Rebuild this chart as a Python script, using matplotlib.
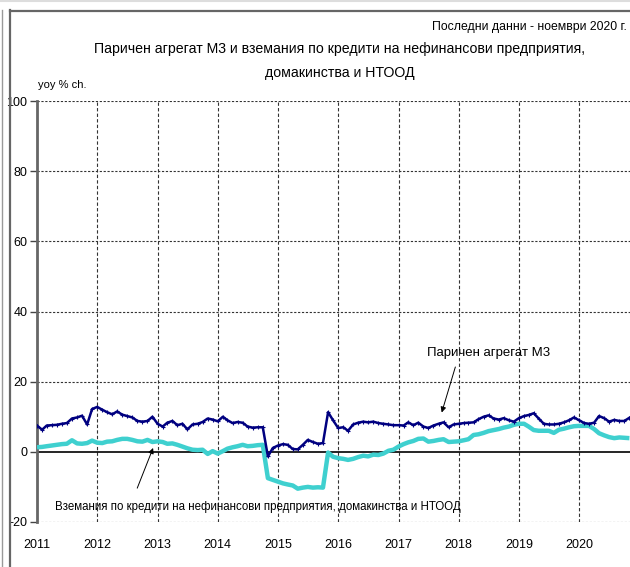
import matplotlib
matplotlib.use("Agg")
import matplotlib.pyplot as plt
from matplotlib.lines import Line2D
import pandas as pd

plt.rcParams['font.family'] = ['Liberation Sans', 'DejaVu Sans']

# monthly yoy % change, Jan 2011 - Nov 2020
m3 = [7.5, 6.3, 7.5, 7.6, 7.7, 8.0, 8.2, 9.5, 9.8, 10.3, 7.8, 12.2,
      12.8, 12.0, 11.3, 10.7, 11.5, 10.6, 10.2, 9.8, 8.8, 8.6, 8.8, 10.0,
      8.0, 7.2, 8.3, 8.8, 7.6, 8.0, 6.4, 7.8, 8.0, 8.5, 9.5, 9.2,
      8.7, 10.0, 9.0, 8.2, 8.5, 8.3, 7.2, 6.9, 7.0, 7.0, -1.3, 1.1,
      1.8, 2.2, 2.0, 0.8, 0.7, 2.0, 3.4, 2.8, 2.3, 2.5, 11.3, 9.0,
      6.8, 7.0, 6.0, 7.8, 8.3, 8.6, 8.4, 8.6, 8.2, 8.0, 7.8, 7.6,
      7.6, 7.5, 8.4, 7.6, 8.3, 7.2, 6.8, 7.5, 8.0, 8.4, 7.0, 7.8,
      8.0, 8.2, 8.3, 8.4, 9.3, 10.0, 10.4, 9.5, 9.2, 9.6, 9.0, 8.6,
      9.6, 10.2, 10.5, 11.0, 9.5, 8.0, 7.8, 7.8, 8.0, 8.4, 9.0, 9.8,
      9.0, 8.2, 8.0, 8.3, 10.2, 9.6, 8.6, 9.1, 8.8, 8.8, 9.7]

credit = [1.3, 1.4, 1.6, 1.8, 2.0, 2.2, 2.3, 3.3, 2.4, 2.3, 2.5, 3.2,
          2.6, 2.5, 2.9, 3.0, 3.4, 3.7, 3.7, 3.4, 3.0, 2.9, 3.4, 2.8,
          3.0, 2.8, 2.3, 2.4, 2.0, 1.5, 1.0, 0.6, 0.5, 0.6, -0.6, 0.2,
          -0.5, 0.2, 0.9, 1.3, 1.6, 2.0, 1.6, 1.7, 1.9, 2.0, -7.5, -8.0,
          -8.5, -9.0, -9.3, -9.6, -10.5, -10.2, -10.0, -10.2, -10.1, -10.2, -0.2, -1.4,
          -1.8, -2.0, -2.3, -2.0, -1.5, -1.1, -1.3, -0.8, -0.9, -0.5, 0.3, 0.6,
          1.5, 2.2, 2.7, 3.1, 3.7, 3.8, 2.9, 3.1, 3.4, 3.6, 2.8, 2.9,
          3.0, 3.3, 3.6, 4.8, 5.0, 5.4, 5.9, 6.2, 6.5, 6.9, 7.2, 7.7,
          8.0, 8.0, 7.2, 6.2, 6.0, 6.0, 6.0, 5.4, 6.3, 6.6, 7.0, 7.3,
          7.4, 7.4, 7.4, 6.5, 5.3, 4.7, 4.2, 3.9, 4.1, 4.0, 3.9]

years = list(range(2011, 2021))
yticks = [-20, 0, 20, 40, 60, 80, 100]

dates = pd.date_range('2011-01-01', periods=len(m3), freq='MS')

fig = plt.figure(figsize=(6.3, 5.67), dpi=100)
ax = fig.add_axes([37 / 630, 1 - 522 / 567, 598 / 630, 421 / 567])

ax.plot(dates, credit, color='#3fd0cf', lw=3.2, solid_capstyle='butt', zorder=3)
ax.plot(dates, m3, color='#000080', lw=1.8, marker='+', ms=3, mew=0.8, zorder=4)

ax.set_xlim(pd.Timestamp('2011-01-01'), pd.Timestamp('2020-12-05'))
ax.set_ylim(-20, 100)
ax.set_yticks(yticks)
ax.set_yticklabels([str(v) for v in yticks], fontsize=9)
year_dates = [pd.Timestamp(f'{y}-01-01') for y in years]
ax.set_xticks(year_dates)
ax.set_xticklabels([str(y) for y in years], fontsize=9)
ax.tick_params(axis='x', length=0, pad=12)
ax.tick_params(axis='y', length=5, width=1, color='#444444', pad=2)

for y in yticks:
    if y == 0:
        ax.axhline(0, color='black', lw=1.2, zorder=2)
    else:
        ax.axhline(y, color='#333333', lw=0.8, ls=(0, (2, 1.5)), zorder=1)
for d in year_dates[1:]:
    ax.axvline(d, color='#333333', lw=0.8, ls=(0, (3, 2)), zorder=1)

for s in ['top', 'right', 'bottom']:
    ax.spines[s].set_visible(False)
ax.spines['left'].set_color('#666666')
ax.spines['left'].set_linewidth(2)

ax.annotate('Паричен агрегат М3', xy=(pd.Timestamp('2017-09-20'), 11.2),
            xytext=(pd.Timestamp('2018-07-01'), 28.2), ha='center', va='center',
            fontsize=9.5,
            arrowprops=dict(arrowstyle='-|>', color='black', lw=0.7,
                            mutation_scale=8, shrinkA=4, shrinkB=0,
                            relpos=(0.25, 0.0)))
ax.annotate('Вземания по кредити на нефинансови предприятия, домакинства и НТООД',
            xy=(pd.Timestamp('2012-12-05'), 1.1),
            xytext=(pd.Timestamp('2014-09-01'), -15.8), ha='center', va='center',
            fontsize=8.3,
            arrowprops=dict(arrowstyle='-|>', color='black', lw=0.7,
                            mutation_scale=8, shrinkA=8, shrinkB=0,
                            relpos=(0.19, 1.0)))

fig.text(340 / 630, 1 - 49 / 567, 'Паричен агрегат М3 и вземания по кредити на нефинансови предприятия,',
         ha='center', va='center', fontsize=10.2)
fig.text(340 / 630, 1 - 73 / 567, 'домакинства и НТООД', ha='center', va='center', fontsize=10.2)
fig.text(627 / 630, 1 - 27 / 567, 'Последни данни - ноември 2020 г.', ha='right', va='center', fontsize=8.8)
fig.text(38 / 630, 1 - 85 / 567, 'yoy % ch.', ha='left', va='center', fontsize=8)

# outer frame
fig.add_artist(Line2D([9.5 / 630, 9.5 / 630], [0, 1 - 10 / 567], color='#666666', lw=1.6))
fig.add_artist(Line2D([9.5 / 630, 1], [1 - 10.5 / 567, 1 - 10.5 / 567], color='#666666', lw=1.6))
fig.add_artist(Line2D([2 / 630, 2 / 630], [0, 1 - 10 / 567], color='#999999', lw=1.0))
fig.add_artist(Line2D([0, 1], [1 - 1 / 567, 1 - 1 / 567], color='#dddddd', lw=1.5))

fig.savefig('out.png', dpi=100)
